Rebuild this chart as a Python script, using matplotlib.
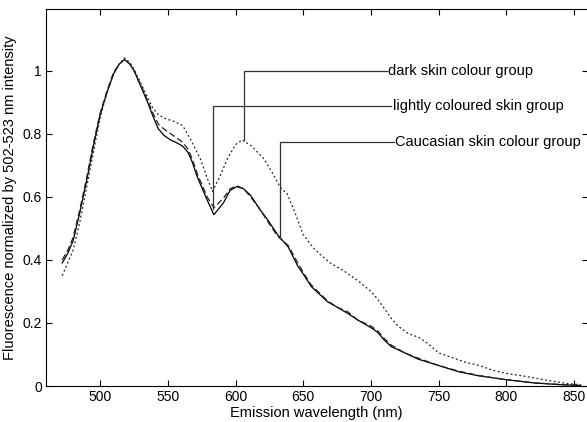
import matplotlib
matplotlib.use("Agg")
import matplotlib.pyplot as plt

plt.rcParams['font.family'] = ['Liberation Sans', 'DejaVu Sans']

# Caucasian skin colour group (solid)
cauc_nm = [472, 476, 480, 485, 490, 495, 500, 505, 510, 514, 518, 522, 525, 530, 535,
           539, 543, 547, 552, 557, 561, 565, 568, 572, 579, 584, 591, 596, 601, 606, 611, 618, 624,
           631, 639, 646, 650, 656, 668, 675, 683, 690, 700, 705, 710, 715, 725, 735,
           750, 765, 780, 800, 820, 840, 855]
cauc_val = [0.39, 0.42, 0.46, 0.55, 0.65, 0.76, 0.86, 0.93, 0.99, 1.02, 1.035, 1.02, 1.0, 0.95, 0.90,
            0.855, 0.815, 0.795, 0.78, 0.77, 0.76, 0.74, 0.71, 0.66, 0.59, 0.543, 0.58, 0.62, 0.632, 0.625, 0.605, 0.56, 0.525,
            0.48, 0.44, 0.38, 0.355, 0.315, 0.267, 0.25, 0.23, 0.21, 0.185, 0.17, 0.145, 0.125, 0.105, 0.085,
            0.065, 0.045, 0.032, 0.02, 0.01, 0.004, 0.002]

# lightly coloured skin group (dashed)
light_nm = [472, 476, 480, 485, 490, 495, 500, 505, 510, 514, 518, 522, 525, 530, 535,
            539, 543, 547, 552, 557, 561, 565, 568, 572, 579, 584, 591, 596, 601, 606, 611, 618, 624,
            631, 639, 646, 650, 656, 668, 675, 683, 690, 700, 705, 710, 715, 725, 735,
            750, 765, 780, 800, 820, 840, 855]
light_val = [0.40, 0.43, 0.47, 0.56, 0.66, 0.77, 0.865, 0.935, 0.995, 1.02, 1.035, 1.02, 1.0, 0.955, 0.905,
             0.865, 0.83, 0.815, 0.80, 0.785, 0.772, 0.75, 0.72, 0.67, 0.60, 0.565, 0.595, 0.625, 0.635, 0.625, 0.60, 0.56, 0.52,
             0.475, 0.445, 0.39, 0.36, 0.32, 0.27, 0.25, 0.235, 0.21, 0.19, 0.175, 0.15, 0.13, 0.105, 0.088,
             0.065, 0.047, 0.033, 0.02, 0.01, 0.005, 0.002]

# dark skin colour group (dotted)
dark_nm = [472, 476, 480, 485, 490, 495, 500, 505, 510, 514, 518, 522, 525, 530, 535,
           539, 543, 548, 555, 561, 567, 574, 579, 583, 588, 594, 600, 605, 612, 621, 628,
           633, 638, 643, 650, 657, 663, 670, 680, 690, 700, 705, 710, 715, 720, 728,
           735, 742, 750, 760, 770, 780, 790, 800, 815, 830, 845, 855]
dark_val = [0.35, 0.39, 0.43, 0.52, 0.63, 0.74, 0.85, 0.93, 0.99, 1.02, 1.04, 1.025, 1.005, 0.96, 0.915,
            0.88, 0.86, 0.848, 0.838, 0.825, 0.78, 0.72, 0.66, 0.617, 0.66, 0.72, 0.765, 0.78, 0.76, 0.72, 0.67,
            0.63, 0.61, 0.56, 0.48, 0.44, 0.415, 0.39, 0.365, 0.335, 0.30, 0.275, 0.245, 0.215, 0.19, 0.165,
            0.155, 0.135, 0.105, 0.09, 0.075, 0.065, 0.05, 0.04, 0.03, 0.018, 0.008, 0.004]

# annotations: label, pointed x, pointed y, text level, text x
ann_labels = ["dark skin colour group", "lightly coloured skin group", "Caucasian skin colour group"]
ann_x = [606, 583.5, 633]
ann_y = [0.78, 0.56, 0.47]
ann_level = [1.0, 0.886, 0.775]
ann_text_x = [713, 716, 718]

x_ticks = [500, 550, 600, 650, 700, 750, 800, 850]
y_ticks = [0, 0.2, 0.4, 0.6, 0.8, 1]
y_tick_labels = ["0", "0.2", "0.4", "0.6", "0.8", "1"]

fig = plt.figure(figsize=(5.87, 4.22), dpi=100)
ax = fig.add_axes([46 / 587, 36 / 422, 541.5 / 587, 377 / 422])

ax.plot(cauc_nm, cauc_val, color="black", lw=0.9, ls="-")
ax.plot(light_nm, light_val, color="#222222", lw=0.9, ls=(0, (5, 2.5)))
ax.plot(dark_nm, dark_val, color="#222222", lw=0.9, ls=(0, (1.5, 2)))

for label, px, py, lvl, tx in zip(ann_labels, ann_x, ann_y, ann_level, ann_text_x):
    ax.plot([px, px, tx - 1], [py, lvl, lvl], color="#333333", lw=0.9)
    ax.text(tx, lvl, label, fontsize=10.5, va="center", ha="left")

ax.set_xlim(460, 860)
ax.set_ylim(0, 1.195)
ax.set_xticks(x_ticks)
ax.set_yticks(y_ticks)
ax.set_yticklabels(y_tick_labels)
ax.tick_params(direction="in", top=True, right=True, length=4, width=0.8, labelsize=10, pad=3)
for s in ax.spines.values():
    s.set_linewidth(0.8)

ax.set_xlabel("Emission wavelength (nm)", fontsize=10.5, labelpad=1)
ax.set_ylabel("Fluorescence normalized by 502-523 nm intensity", fontsize=10.5, labelpad=4)

fig.savefig("out.png", dpi=100)
